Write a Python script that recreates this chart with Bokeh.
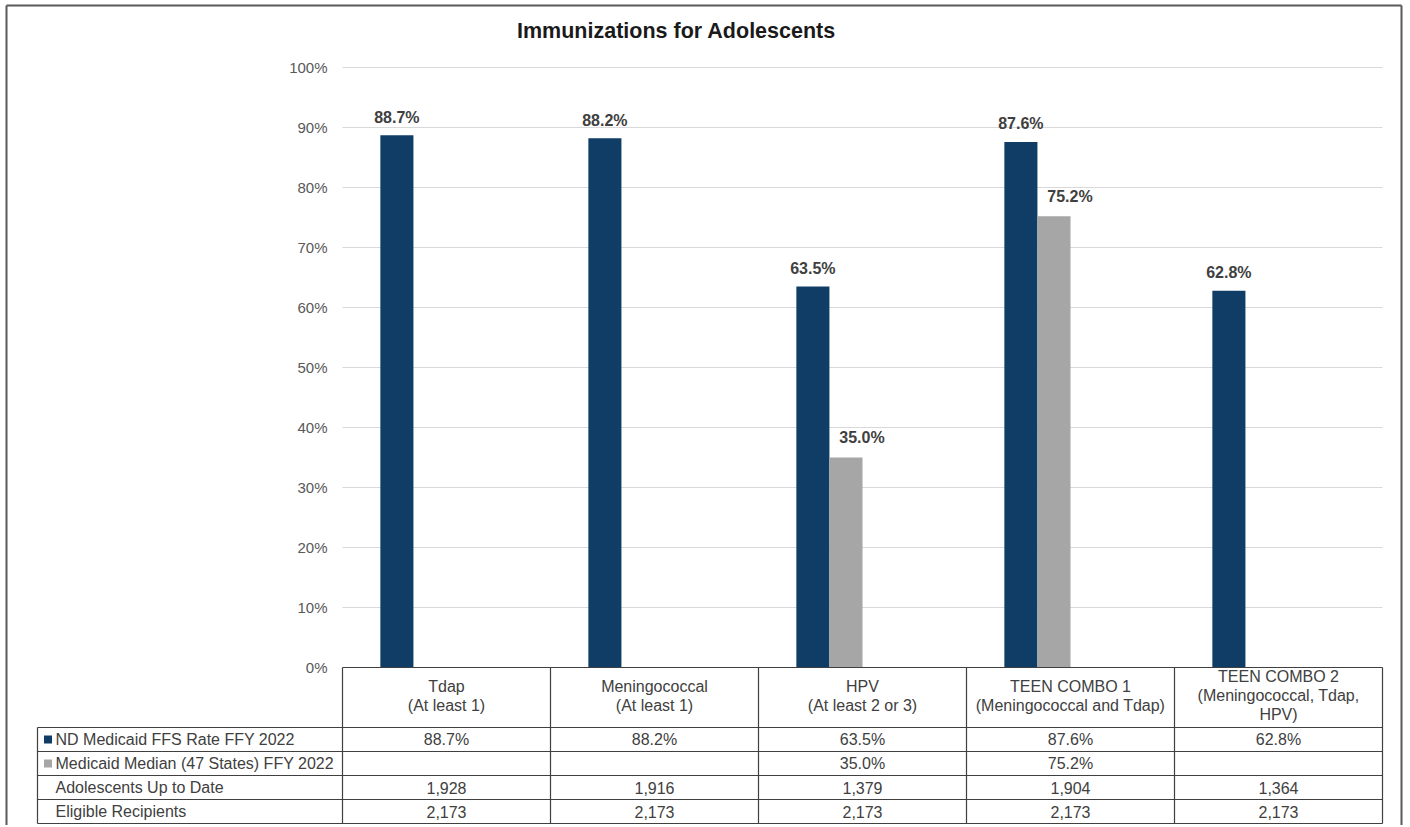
import numpy as np
from bokeh.plotting import figure
from bokeh.models import Range1d
from bokeh.core.properties import value
from bokeh.embed import file_html
from bokeh.resources import INLINE

# ---------------- data ----------------
title_text = "Immunizations for Adolescents"
categories = [
    "Tdap\n(At least 1)",
    "Meningococcal\n(At least 1)",
    "HPV\n(At least 2 or 3)",
    "TEEN COMBO 1\n(Meningococcal and Tdap)",
    "TEEN COMBO 2\n(Meningococcal, Tdap,\nHPV)",
]
series_names = ["ND Medicaid FFS Rate FFY 2022", "Medicaid Median (47 States) FFY 2022"]
nd_rate = [88.7, 88.2, 63.5, 87.6, 62.8]
median_rate = [None, None, 35.0, 75.2, None]
count_names = ["Adolescents Up to Date", "Eligible Recipients"]
up_to_date = [1928, 1916, 1379, 1904, 1364]
eligible = [2173, 2173, 2173, 2173, 2173]
y_ticks = [0, 10, 20, 30, 40, 50, 60, 70, 80, 90, 100]
y_tick_labels = ["0%", "10%", "20%", "30%", "40%", "50%", "60%", "70%", "80%", "90%", "100%"]

# ---------------- layout / style ----------------
W, H = 1404, 825
PX_PER_CAT = 208.0
PX_PER_PCT = 6.0
PLOT_LEFT = 342.0   # canvas px of category axis start
ZERO_Y = 667.0      # canvas px of 0%

def dx(px):
    return (px - PLOT_LEFT) / PX_PER_CAT

def dy(py):
    return (ZERO_Y - py) / PX_PER_PCT

NAVY = "#0f3d66"
GRAY = "#a6a6a6"
FONT = value("Liberation Sans")
TXT = "#404040"

p = figure(width=W, height=H,
           x_range=Range1d(dx(0), dx(W)),
           y_range=Range1d(dy(H), dy(0)),
           x_axis_type=None, y_axis_type=None,
           toolbar_location=None, output_backend="svg",
           min_border=0, background_fill_color="white",
           border_fill_color="white")
p.outline_line_color = None

n = len(categories)
xs = np.arange(n) + 0.5
bar_w = 0.159

# chart border (left, top, right)
bl, bt, br, bb = dx(6), dy(5), dx(1401), dy(H)
p.segment(x0=[bl, bl, br], y0=[bb, bt, bt], x1=[bl, br, br], y1=[bt, bt, bb],
          line_color="#595959", line_width=2)

# gridlines
grid_y = [t for t in y_ticks if t > 0]
p.segment(x0=[0] * len(grid_y), y0=grid_y, x1=[n] * len(grid_y), y1=grid_y,
          line_color="#d9d9d9", line_width=1)

# y tick labels
p.text(x=[dx(327)] * len(y_ticks), y=y_ticks, text=y_tick_labels,
       text_align="right", text_baseline="middle", text_font=FONT,
       text_font_size="15px", text_color="#595959")

# bars
nd_x = xs - 1.5 * bar_w
md_x = xs - 0.5 * bar_w
p.vbar(x=nd_x, top=nd_rate, width=bar_w, fill_color=NAVY, line_color=None)
md_idx = [i for i, v in enumerate(median_rate) if v is not None]
md_vals = [median_rate[i] for i in md_idx]
p.vbar(x=md_x[md_idx], top=md_vals, width=bar_w, fill_color=GRAY, line_color=None)

# data labels
p.text(x=nd_x, y=nd_rate, text=[f"{v:.1f}%" for v in nd_rate],
       text_align="center", text_baseline="alphabetic", y_offset=-18,
       text_font=FONT, text_font_style="bold", text_font_size="16px", text_color=TXT)
p.text(x=md_x[md_idx], y=md_vals, text=[f"{v:.1f}%" for v in md_vals],
       text_align="center", text_baseline="alphabetic", y_offset=-20, x_offset=16,
       text_font=FONT, text_font_style="bold", text_font_size="16px", text_color=TXT)

# title
p.text(x=[dx(676)], y=[dy(30)], text=[title_text], text_align="center",
       text_baseline="middle", text_font=FONT, text_font_style="bold",
       text_font_size="21.5px", text_color="#1a1a1a")

# ---------------- data table ----------------
label_left = dx(37)
header_bottom = dy(727)
row_h = 24 / PX_PER_PCT
n_rows = 4
row_edges = [header_bottom - i * row_h for i in range(n_rows + 1)]
row_centers = [(row_edges[i] + row_edges[i + 1]) / 2 for i in range(n_rows)]
LINE = "#404040"

# horizontal lines
p.segment(x0=[0], y0=[0], x1=[n], y1=[0], line_color=LINE, line_width=1.2)
p.segment(x0=[label_left] * len(row_edges), y0=row_edges,
          x1=[n] * len(row_edges), y1=row_edges, line_color=LINE, line_width=1.2)
# vertical lines
p.segment(x0=list(range(n + 1)), y0=[0] * (n + 1), x1=list(range(n + 1)),
          y1=[row_edges[-1]] * (n + 1), line_color=LINE, line_width=1.2)
p.segment(x0=[label_left], y0=[header_bottom], x1=[label_left], y1=[row_edges[-1]],
          line_color=LINE, line_width=1.2)

# header (category) labels
p.text(x=xs, y=[header_bottom / 2 + 0.3] * n, text=categories,
       text_align="center", text_baseline="middle", text_line_height=1.12,
       text_font=FONT, text_font_size="16px", text_color=TXT)

# row labels and legend keys
row_names = series_names + count_names
p.text(x=[dx(55)] * n_rows, y=row_centers, text=row_names,
       text_align="left", text_baseline="middle",
       text_font=FONT, text_font_size="16px", text_color=TXT)
p.scatter(x=[dx(47.5)] * 2, y=row_centers[:2], marker="square", size=8,
          fill_color=[NAVY, GRAY], line_color=None)

# cell values
rows_vals = [
    [f"{v:.1f}%" for v in nd_rate],
    ["" if v is None else f"{v:.1f}%" for v in median_rate],
    [f"{v:,}" for v in up_to_date],
    [f"{v:,}" for v in eligible],
]
cx, cy, ct = [], [], []
for r, vals in enumerate(rows_vals):
    for c, t in enumerate(vals):
        if t:
            cx.append(xs[c]); cy.append(row_centers[r]); ct.append(t)
p.text(x=cx, y=cy, text=ct, text_align="center", text_baseline="middle",
       text_font=FONT, text_font_size="16px", text_color=TXT)

open("out.html", "w").write(file_html(p, INLINE))
